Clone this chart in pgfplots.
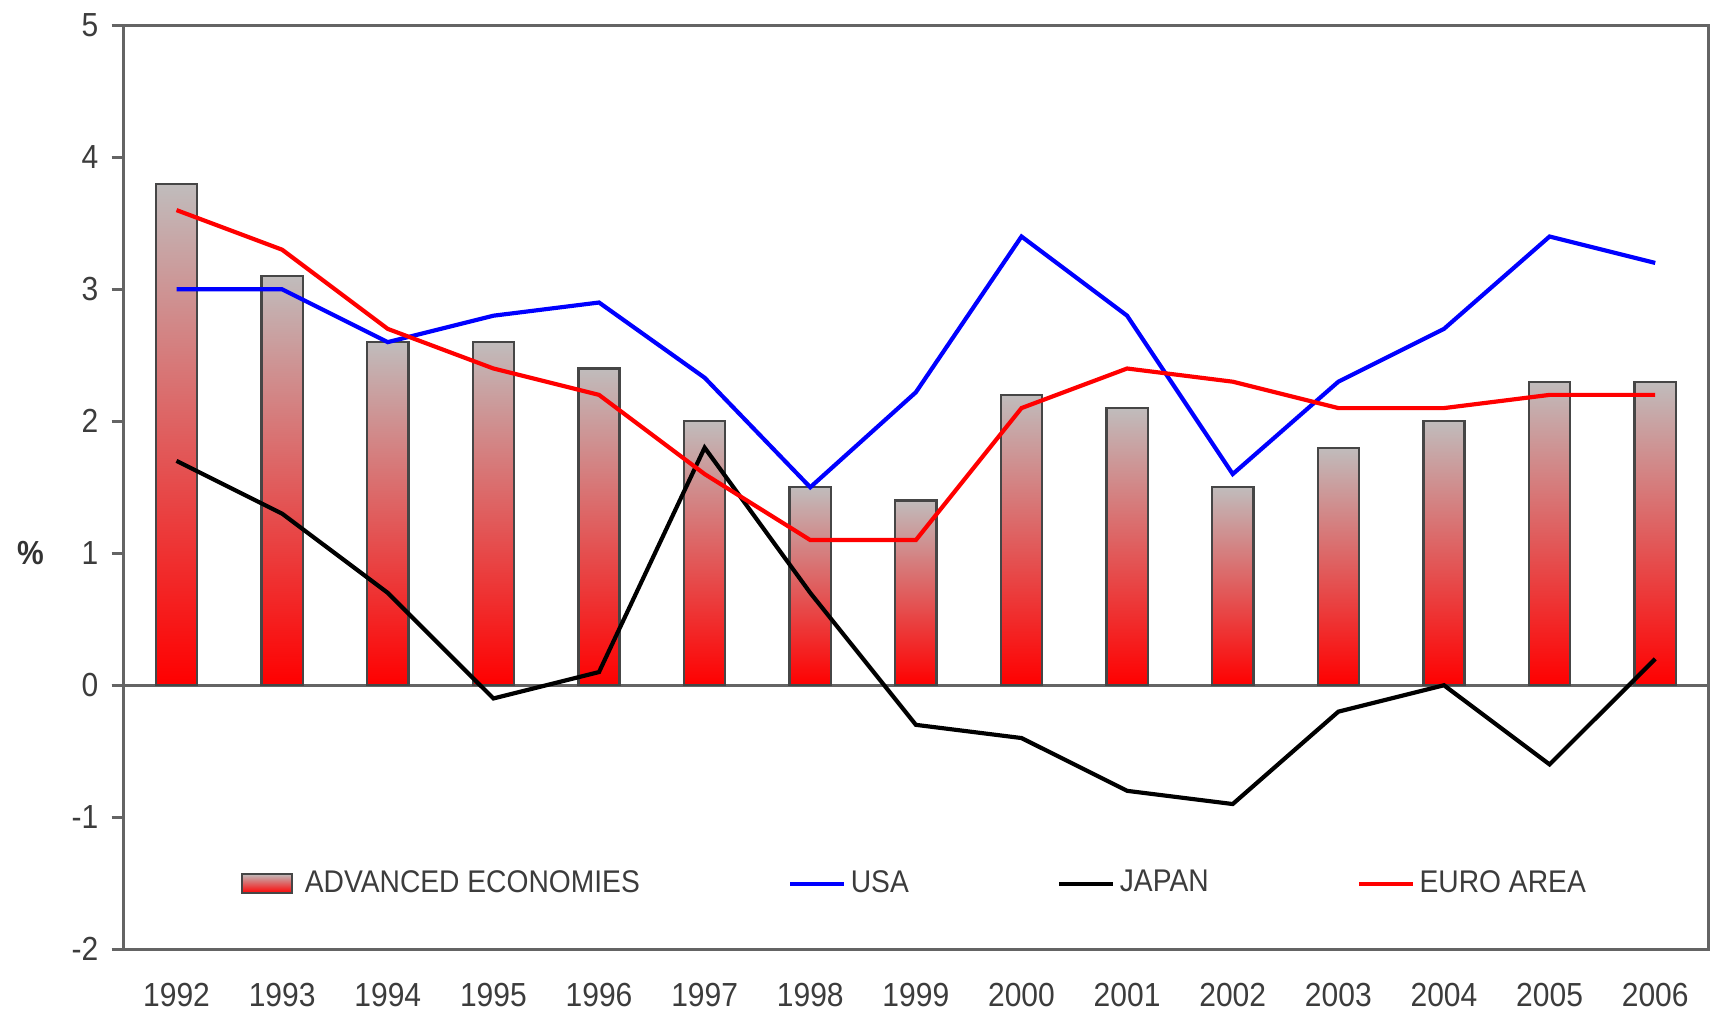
\documentclass[border=0pt]{standalone}
\usepackage{pgfplots}
\pgfplotsset{compat=1.18}
\usepackage{fontspec}
\setmainfont{Liberation Sans}[FakeStretch=0.9]
\definecolor{axisgray}{RGB}{100,100,100}
\definecolor{bardraw}{RGB}{70,70,70}
\definecolor{textgray}{RGB}{60,60,60}
\definecolor{bartop}{RGB}{192,188,188}
\definecolor{usablue}{RGB}{0,0,255}
\definecolor{eured}{RGB}{255,0,0}

\pgfplotsset{
  barleg/.style={legend image code/.code={\draw[##1] (0pt,-2.9pt) rectangle (15pt,2.9pt); \path (17pt,0pt);}},
  lineleg/.style={legend image code/.code={\draw[##1] (0pt,0pt) -- (16pt,0pt);}},
  advbar/.style={ybar, bar width=0.39, draw=bardraw, line width=0.7pt,
    top color=bartop, middle color=bartop!72!eured, bottom color=eured},
}

\begin{document}
\begin{tikzpicture}
\begin{axis}[
  scale only axis,
  width=475pt, height=277pt,
  xmin=-0.5, xmax=14.5,
  ymin=-2, ymax=5,
  ytick={-2,-1,0,1,2,3,4,5},
  xtick={0,...,14},
  xticklabels={1992,1993,1994,1995,1996,1997,1998,1999,2000,2001,2002,2003,2004,2005,2006},
  axis line style={axisgray, line width=0.9pt},
  ytick pos=left,
  tick align=outside,
  major tick length=3.6pt,
  ytick style={axisgray, line width=0.9pt},
  xtick style={draw=none},
  tick label style={font=\fontsize{10}{12}\selectfont, text=textgray},
  /pgf/number format/assume math mode=true,
  yticklabel style={xshift=-0.5pt},
  xticklabel style={yshift=-3pt, text depth=0pt},
  extra y ticks={0},
  extra y tick labels={},
  extra y tick style={grid=major, major grid style={axisgray, line width=0.9pt}},
  ylabel={\textbf{\%}},
  ylabel style={rotate=-90, at={(axis description cs:-0.0588,0.4286)}, anchor=center, font=\fontsize{10}{12}\selectfont, text=black!80},
  legend columns=4,
  legend style={draw=none, fill=none, at={(0.5,0.071)}, anchor=center,
    font=\fontsize{9.4}{11}\selectfont, text=textgray,
    /tikz/every odd column/.append style={column sep=0pt},
    /tikz/every even column/.append style={column sep=43pt},
    nodes={inner xsep=1.5pt, inner ysep=0pt}},
  legend cell align=left,
]
\addplot[advbar, barleg] coordinates {(0,3.8)};
\addlegendentry{ADVANCED ECONOMIES}
\addplot[advbar, forget plot] coordinates {(1,3.1)};
\addplot[advbar, forget plot] coordinates {(2,2.6)};
\addplot[advbar, forget plot] coordinates {(3,2.6)};
\addplot[advbar, forget plot] coordinates {(4,2.4)};
\addplot[advbar, forget plot] coordinates {(5,2.0)};
\addplot[advbar, forget plot] coordinates {(6,1.5)};
\addplot[advbar, forget plot] coordinates {(7,1.4)};
\addplot[advbar, forget plot] coordinates {(8,2.2)};
\addplot[advbar, forget plot] coordinates {(9,2.1)};
\addplot[advbar, forget plot] coordinates {(10,1.5)};
\addplot[advbar, forget plot] coordinates {(11,1.8)};
\addplot[advbar, forget plot] coordinates {(12,2.0)};
\addplot[advbar, forget plot] coordinates {(13,2.3)};
\addplot[advbar, forget plot] coordinates {(14,2.3)};
\addplot[usablue, line width=1.25pt, lineleg]
  coordinates {(0,3.0)(1,3.0)(2,2.6)(3,2.8)(4,2.9)(5,2.33)(6,1.5)(7,2.22)(8,3.4)(9,2.8)(10,1.6)(11,2.3)(12,2.7)(13,3.4)(14,3.2)};
\addlegendentry{USA}
\addplot[black, line width=1.25pt, lineleg]
  coordinates {(0,1.7)(1,1.3)(2,0.7)(3,-0.1)(4,0.1)(5,1.8)(6,0.7)(7,-0.3)(8,-0.4)(9,-0.8)(10,-0.9)(11,-0.2)(12,0.0)(13,-0.6)(14,0.2)};
\addlegendentry{JAPAN}
\addplot[eured, line width=1.25pt, lineleg]
  coordinates {(0,3.6)(1,3.3)(2,2.7)(3,2.4)(4,2.2)(5,1.6)(6,1.1)(7,1.1)(8,2.1)(9,2.4)(10,2.3)(11,2.1)(12,2.1)(13,2.2)(14,2.2)};
\addlegendentry{EURO AREA}
\end{axis}
\pgfresetboundingbox
\path ([shift={(-37.1pt,-19.7pt)}]current axis.south west) rectangle ([shift={(3.3pt,7.6pt)}]current axis.north east);
\end{tikzpicture}
\end{document}
